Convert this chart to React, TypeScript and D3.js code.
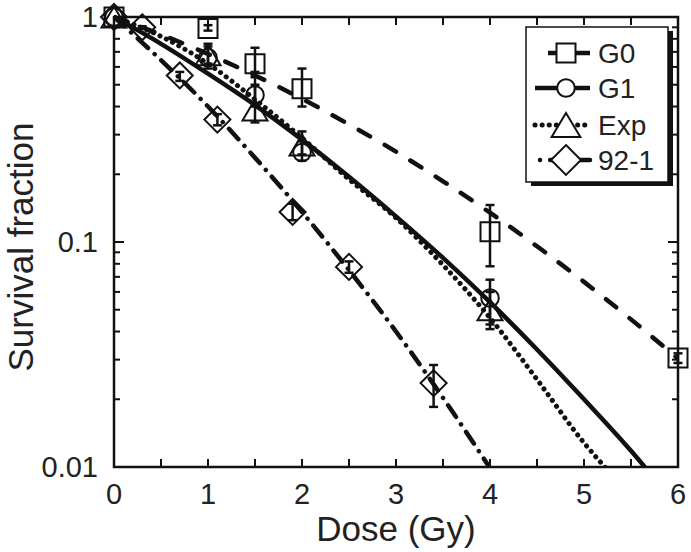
import React from 'react';
import * as d3 from 'd3';

const W = 691;
const H = 552;
const PL = 114, PT = 17, PR = 678, PB = 467;

// Measured data points (dose, survival, error low, error high)
const g0Dose = [0, 1, 1.5, 2, 4, 6];
const g0Surv = [1, 0.89, 0.62, 0.48, 0.111, 0.0305];
const g0Lo = [1, 0.87, 0.54, 0.40, 0.078, 0.029];
const g0Hi = [1, 0.92, 0.73, 0.59, 0.146, 0.032];

const g1Dose = [0, 1, 1.5, 2, 4];
const g1Surv = [1, 0.66, 0.45, 0.25, 0.0564];
const g1Lo = [1, 0.59, 0.40, 0.23, 0.043];
const g1Hi = [1, 0.76, 0.50, 0.28, 0.068];

const expDose = [0, 1, 1.5, 2, 4];
const expSurv = [1, 0.68, 0.386, 0.27, 0.050];
const expLo = [1, 0.62, 0.34, 0.245, 0.041];
const expHi = [1, 0.74, 0.57, 0.31, 0.060];

const c92Dose = [0, 0.3, 0.7, 1.1, 1.9, 2.5, 3.4];
const c92Surv = [1, 0.90, 0.55, 0.35, 0.136, 0.0775, 0.0236];
const c92Lo = [1, 0.89, 0.52, 0.33, 0.125, 0.073, 0.0185];
const c92Hi = [1, 0.91, 0.57, 0.37, 0.148, 0.082, 0.0284];

// Fitted curves
const g0FitDose = [0, 0.5, 1, 1.5, 2, 2.5, 3, 3.5, 4, 4.5, 5, 5.5, 6];
const g0FitSurv = [1, 0.836, 0.685, 0.55, 0.433, 0.333, 0.252, 0.186, 0.135, 0.0957, 0.0665, 0.0453, 0.0303];

const g1FitDose = [0, 0.5, 1, 1.5, 2, 2.5, 3, 3.5, 4, 4.5, 5, 5.5, 5.7];
const g1FitSurv = [1, 0.76, 0.56, 0.406, 0.285, 0.195, 0.13, 0.085, 0.054, 0.0333, 0.020, 0.0118, 0.0094];

const expFitDose = [0, 0.5, 1, 1.5, 2, 2.5, 3, 3.5, 4, 4.5, 5, 5.3];
const expFitSurv = [1, 0.82, 0.62, 0.43, 0.29, 0.19, 0.128, 0.079, 0.046, 0.0245, 0.0128, 0.0092];

const c92FitDose = [0, 0.5, 1, 1.5, 2, 2.5, 3, 3.5, 4.05];
const c92FitSurv = [1, 0.643, 0.40, 0.237, 0.136, 0.075, 0.040, 0.0203, 0.0092];

const xTickVals = [0, 1, 2, 3, 4, 5, 6];
const yTickVals = [1, 0.1, 0.01];
const yTickLabels = ['1', '0.1', '0.01'];
const legendLabels = ['G0', 'G1', 'Exp', '92-1'];

const FONT = '"Liberation Sans", Arial, Helvetica, sans-serif';

const x = d3.scaleLinear().domain([0, 6]).range([PL, PR]);
const y = d3.scaleLog().domain([0.01, 1]).range([PB, PT]);

type Marker = 'square' | 'circle' | 'triangle' | 'diamond';

function markerPath(kind: Marker, cx: number, cy: number, s = 1): string {
  if (kind === 'square') {
    const h = 9.5 * s;
    return `M${cx - h},${cy - h}H${cx + h}V${cy + h}H${cx - h}Z`;
  }
  if (kind === 'circle') {
    const r = 8.8 * s;
    return `M${cx - r},${cy}A${r},${r} 0 1,0 ${cx + r},${cy}A${r},${r} 0 1,0 ${cx - r},${cy}Z`;
  }
  if (kind === 'triangle') {
    const hw = 12.5 * s, hh = 10.5 * s;
    return `M${cx},${cy - hh}L${cx + hw},${cy + hh}L${cx - hw},${cy + hh}Z`;
  }
  const hw = 13 * s, hh = 13 * s;
  return `M${cx},${cy - hh}L${cx + hw},${cy}L${cx},${cy + hh}L${cx - hw},${cy}Z`;
}

const series = [
  { dose: g0Dose, surv: g0Surv, lo: g0Lo, hi: g0Hi, fd: g0FitDose, fs: g0FitSurv, marker: 'square' as Marker, dash: '13 17', width: 4.5 },
  { dose: g1Dose, surv: g1Surv, lo: g1Lo, hi: g1Hi, fd: g1FitDose, fs: g1FitSurv, marker: 'circle' as Marker, dash: undefined, width: 4.5 },
  { dose: expDose, surv: expSurv, lo: expLo, hi: expHi, fd: expFitDose, fs: expFitSurv, marker: 'triangle' as Marker, dash: '0.1 7', width: 5 },
  { dose: c92Dose, surv: c92Surv, lo: c92Lo, hi: c92Hi, fd: c92FitDose, fs: c92FitSurv, marker: 'diamond' as Marker, dash: '14 9 0.1 9', width: 4.5 },
];

const legendDash = [undefined, undefined, '0.1 7', '0.1 10 60'];
const legendX1 = [548, 535, 535, 540];
const legendRows = [53, 88, 125, 160];

export default function App() {
  const line = d3
    .line<[number, number]>()
    .x((d) => x(d[0]))
    .y((d) => y(d[1]))
    .curve(d3.curveMonotoneX);

  const xMinor = d3.range(0, 6.01, 0.5);
  const yMinor: number[] = [];
  [0.01, 0.1].forEach((b) => {
    for (let k = 2; k <= 9; k++) yMinor.push(b * k);
  });

  return (
    <svg
      width={W}
      height={H}
      style={{ position: 'absolute', left: 0, top: 0, background: '#fff' }}
      fontFamily={FONT}
    >
      <defs>
        <clipPath id="plotClip">
          <rect x={PL} y={PT - 2} width={PR - PL} height={PB - PT + 2} />
        </clipPath>
      </defs>
      <rect x={0} y={0} width={W} height={H} fill="#fff" />

      {/* fitted curves */}
      <g clipPath="url(#plotClip)">
        {series.map((s, i) => (
          <path
            key={i}
            d={line(s.fd.map((d, j) => [d, s.fs[j]] as [number, number])) || ''}
            fill="none"
            stroke="#111"
            strokeWidth={s.width}
            strokeDasharray={s.dash}
            strokeLinecap={s.dash ? 'round' : 'butt'}
          />
        ))}
      </g>

      {/* frame */}
      <rect x={PL} y={PT} width={PR - PL} height={PB - PT} fill="none" stroke="#111" strokeWidth={2.5} />

      {/* x ticks */}
      {xMinor.map((v, i) => (
        <g key={'xt' + i}>
          <line x1={x(v)} x2={x(v)} y1={PB} y2={PB - 8} stroke="#111" strokeWidth={2} />
          <line x1={x(v)} x2={x(v)} y1={PT} y2={PT + 8} stroke="#111" strokeWidth={2} />
        </g>
      ))}
      {/* y ticks */}
      {yTickVals.map((v, i) => (
        <g key={'ytM' + i}>
          <line x1={PL} x2={PL + 10} y1={y(v)} y2={y(v)} stroke="#111" strokeWidth={2} />
          <line x1={PR} x2={PR - 10} y1={y(v)} y2={y(v)} stroke="#111" strokeWidth={2} />
        </g>
      ))}
      {yMinor.map((v, i) => (
        <g key={'ytm' + i}>
          <line x1={PL} x2={PL + 6} y1={y(v)} y2={y(v)} stroke="#111" strokeWidth={2} />
          <line x1={PR} x2={PR - 6} y1={y(v)} y2={y(v)} stroke="#111" strokeWidth={2} />
        </g>
      ))}

      {/* tick labels */}
      {xTickVals.map((v, i) => (
        <text key={'xl' + i} x={x(v)} y={504} fontSize={29} textAnchor="middle" fill="#222">
          {String(v)}
        </text>
      ))}
      {yTickVals.map((v, i) => (
        <text key={'yl' + i} x={98} y={y(v) + 10} fontSize={29} textAnchor="end" fill="#222">
          {yTickLabels[i]}
        </text>
      ))}

      {/* axis titles */}
      <text x={(PL + PR) / 2 + 0} y={541} fontSize={35} textAnchor="middle" fill="#222">
        Dose (Gy)
      </text>
      <text
        transform={`translate(33,${(PT + PB) / 2 + 5}) rotate(-90)`}
        fontSize={35}
        textAnchor="middle"
        fill="#222"
      >
        Survival fraction
      </text>

      {/* markers */}
      {series.map((s, i) =>
        s.dose.map((d, j) => (
          <path
            key={'m' + i + '-' + j}
            d={markerPath(s.marker, x(d), y(s.surv[j]))}
            fill="none"
            stroke="#111"
            strokeWidth={2}
          />
        ))
      )}

      {/* error bars */}
      {series.map((s, i) =>
        s.dose.map((d, j) => {
          if (s.hi[j] === s.lo[j]) return null;
          const cx = x(d);
          const y1 = y(s.hi[j]);
          const y2 = y(s.lo[j]);
          return (
            <g key={'e' + i + '-' + j} stroke="#111" strokeWidth={2.5}>
              <line x1={cx} x2={cx} y1={y1} y2={y2} />
              <line x1={cx - 4.5} x2={cx + 4.5} y1={y1} y2={y1} />
              <line x1={cx - 4.5} x2={cx + 4.5} y1={y2} y2={y2} />
            </g>
          );
        })
      )}

      {/* legend */}
      <rect x={531} y={31} width={142} height={155} fill="#111" />
      <rect x={526} y={27} width={142} height={155} fill="#fff" stroke="#111" strokeWidth={1.5} />
      {series.map((s, i) => (
        <g key={'lg' + i}>
          <line
            x1={legendX1[i]}
            x2={590}
            y1={legendRows[i]}
            y2={legendRows[i]}
            stroke="#111"
            strokeWidth={s.width}
            strokeDasharray={legendDash[i]}
            strokeLinecap={legendDash[i] ? 'round' : 'butt'}
          />
          <path
            d={markerPath(s.marker, 566, legendRows[i], i >= 2 ? 1.15 : 1)}
            fill="#fff"
            stroke="#111"
            strokeWidth={2}
          />
          <text x={598} y={legendRows[i] + 10} fontSize={28} fill="#222">
            {legendLabels[i]}
          </text>
        </g>
      ))}
    </svg>
  );
}
